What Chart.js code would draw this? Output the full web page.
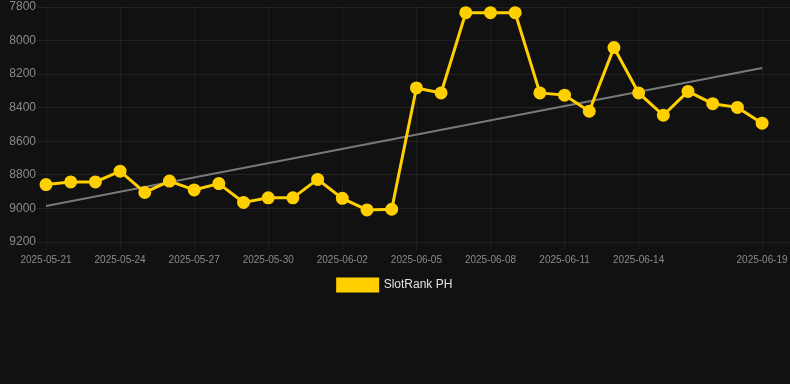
<!DOCTYPE html>
<html>
<head>
<meta charset="utf-8">
<script src="https://cdn.jsdelivr.net/npm/chart.js@4/dist/chart.umd.min.js"></script>
<style>
  html, body { margin: 0; padding: 0; background: #111111; }
  #wrap { width: 790px; height: 301px; position: relative; }
</style>
</head>
<body>
<div id="wrap"><canvas id="c"></canvas></div>
<script>
const dates = ["2025-05-21","2025-05-22","2025-05-23","2025-05-24","2025-05-25","2025-05-26","2025-05-27","2025-05-28","2025-05-29","2025-05-30","2025-05-31","2025-06-01","2025-06-02","2025-06-03","2025-06-04","2025-06-05","2025-06-06","2025-06-07","2025-06-08","2025-06-09","2025-06-10","2025-06-11","2025-06-12","2025-06-13","2025-06-14","2025-06-15","2025-06-16","2025-06-17","2025-06-18","2025-06-19"];
const ranks = [8858,8842,8842,8778,8905,8837,8890,8852,8964,8937,8937,8827,8940,9009,9005,8282,8312,7834,7834,7834,8312,8325,8421,8042,8312,8445,8303,8376,8398,8492];
const trendEnds = [8986, 8164];
const shownTickIdx = [0,3,6,9,12,15,18,21,24,29];
const yTicks = [7800,8000,8200,8400,8600,8800,9000,9200];
const seriesName = "SlotRank PH";

const gold = "#FFCF00";
const mainData = dates.map((d, i) => ({ x: i, y: ranks[i] }));
const trendData = [{ x: 0, y: trendEnds[0] }, { x: dates.length - 1, y: trendEnds[1] }];

new Chart(document.getElementById("c"), {
  type: "line",
  data: {
    datasets: [
      {
        label: seriesName,
        data: mainData,
        borderColor: gold,
        backgroundColor: gold,
        borderWidth: 3,
        pointRadius: 5,
        pointHoverRadius: 5,
        pointBackgroundColor: gold,
        pointBorderColor: gold,
        tension: 0,
        clip: false
      },
      {
        label: "trend",
        data: trendData,
        borderColor: "rgba(140,140,140,0.85)",
        borderWidth: 2,
        pointRadius: 0,
        fill: false
      }
    ]
  },
  options: {
    responsive: true,
    maintainAspectRatio: false,
    animation: false,
    layout: { autoPadding: false, padding: 0 },
    plugins: {
      tooltip: { enabled: false },
      legend: {
        position: "bottom",
        labels: {
          color: "#e0e0e0",
          font: { family: "Liberation Sans, Arial, sans-serif", size: 12 },
          boxWidth: 40,
          boxHeight: 12,
          padding: 9,
          filter: (item) => item.text === seriesName
        }
      }
    },
    scales: {
      x: {
        type: "linear",
        min: 0,
        max: 30.13,
        afterBuildTicks: (axis) => { axis.ticks = shownTickIdx.map(v => ({ value: v })); },
        afterFit: (axis) => { axis.paddingRight = 0; axis.paddingLeft = 0; },
        ticks: {
          color: "#8a8a8a",
          font: { family: "Liberation Sans, Arial, sans-serif", size: 10 },
          maxRotation: 0,
          autoSkip: false,
          padding: 4,
          callback: (v) => dates[v] || ""
        },
        grid: { color: "rgba(255,255,255,0.05)", tickLength: 8 },
        border: { display: false }
      },
      y: {
        reverse: true,
        min: 7800,
        max: 9200,
        afterBuildTicks: (axis) => { axis.ticks = yTicks.map(v => ({ value: v })); },
        afterFit: (axis) => { axis.width = 46; axis.paddingTop = 7; },
        ticks: {
          color: "#8a8a8a",
          font: { family: "Liberation Sans, Arial, sans-serif", size: 12 },
          padding: 2,
          callback: (v) => String(v)
        },
        grid: { color: "rgba(255,255,255,0.07)", tickLength: 8 },
        border: { display: false }
      }
    }
  }
});
</script>
</body>
</html>
